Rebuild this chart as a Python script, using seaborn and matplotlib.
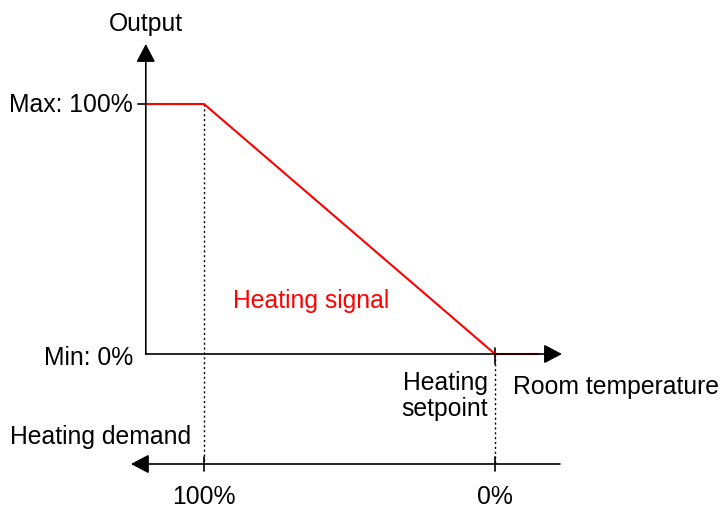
import numpy as np
import pandas as pd
import matplotlib
matplotlib.use("Agg")
import matplotlib.pyplot as plt
import seaborn as sns

# ---- data ----
# heating demand (%) at the corners of the heating signal, and output (%)
signal_demand = [120, 100, 0, -15]
signal_output = [100, 100, 0, 0]
demand_ticks = [100, 0]
demand_tick_labels = ["100%", "0%"]
output_levels = [100, 0]
output_labels = ["Max: 100%", "Min: 0%"]

sns.set_theme(style="white")
plt.rcParams["font.family"] = ["Liberation Sans", "DejaVu Sans"]
plt.rcParams["text.color"] = "black"

fig = plt.figure(figsize=(7.22, 5.10), dpi=100)
ax = fig.add_axes([0, 0, 1, 1])
ax.set_xlim(170.1, -78.0)   # demand axis reversed: 100% left, 0% right
ax.set_ylim(-62, 142)
ax.axis("off")

df = pd.DataFrame({"demand": signal_demand, "output": signal_output})
sns.lineplot(data=df, x="demand", y="output", sort=False, color="#ff0000",
             linewidth=1.5, ax=ax, zorder=3)

fs = 17.8
line_kw = dict(color="black", lw=1.2)
head = "-|>,head_length=1.1,head_width=0.58"

# output axis (vertical) and room temperature axis (horizontal)
x0 = signal_demand[0]
ax.annotate("", xy=(x0, 124), xytext=(x0, 0),
            arrowprops=dict(arrowstyle=head, mutation_scale=10, shrinkA=0, shrinkB=0, **line_kw))
ax.annotate("", xy=(-23, 0), xytext=(x0, 0),
            arrowprops=dict(arrowstyle=head, mutation_scale=10, shrinkA=0, shrinkB=0, **line_kw))
# heating demand axis (bottom), pointing left
y_dem = -44
ax.annotate("", xy=(125.1, y_dem), xytext=(-22.3, y_dem),
            arrowprops=dict(arrowstyle=head, mutation_scale=10, shrinkA=0, shrinkB=0, **line_kw))

# max tick on output axis
ax.plot([122.7, x0], [output_levels[0]] * 2, **line_kw)

# dotted guides + ticks
for d, lab in zip(demand_ticks, demand_tick_labels):
    top = signal_output[signal_demand.index(d)]
    ax.plot([d, d], [top, y_dem], color="black", lw=1.0, ls=(0, (1.5, 2)))
    ax.plot([d, d], [y_dem + 2.8, y_dem - 2.8], **line_kw)
    ax.text(d, -56.8, lab, ha="center", va="center", fontsize=fs, color="black")
ax.plot([0, 0], [2.4, -4], **line_kw)

# labels
for lvl, lab in zip(output_levels, output_labels):
    ax.text(124.4, lvl - 1.2 * (lvl == 0), lab, ha="right", va="center", fontsize=fs,
            color="black")
ax.text(x0, 132.4, "Output", ha="center", va="center", fontsize=fs, color="black")
ax.text(63.2, 21.6, "Heating signal", ha="center", va="center", fontsize=fs, color="#ff0000")
ax.text(2.4, -16.4, "Heating\nsetpoint", ha="right", va="center", fontsize=fs,
        multialignment="right", linespacing=1.12, color="black")
ax.text(-6.2, -12.8, "Room temperature", ha="left", va="center", fontsize=fs, color="black")
ax.text(166.7, -32.8, "Heating demand", ha="left", va="center", fontsize=fs, color="black")

fig.savefig("out.png", dpi=100)
